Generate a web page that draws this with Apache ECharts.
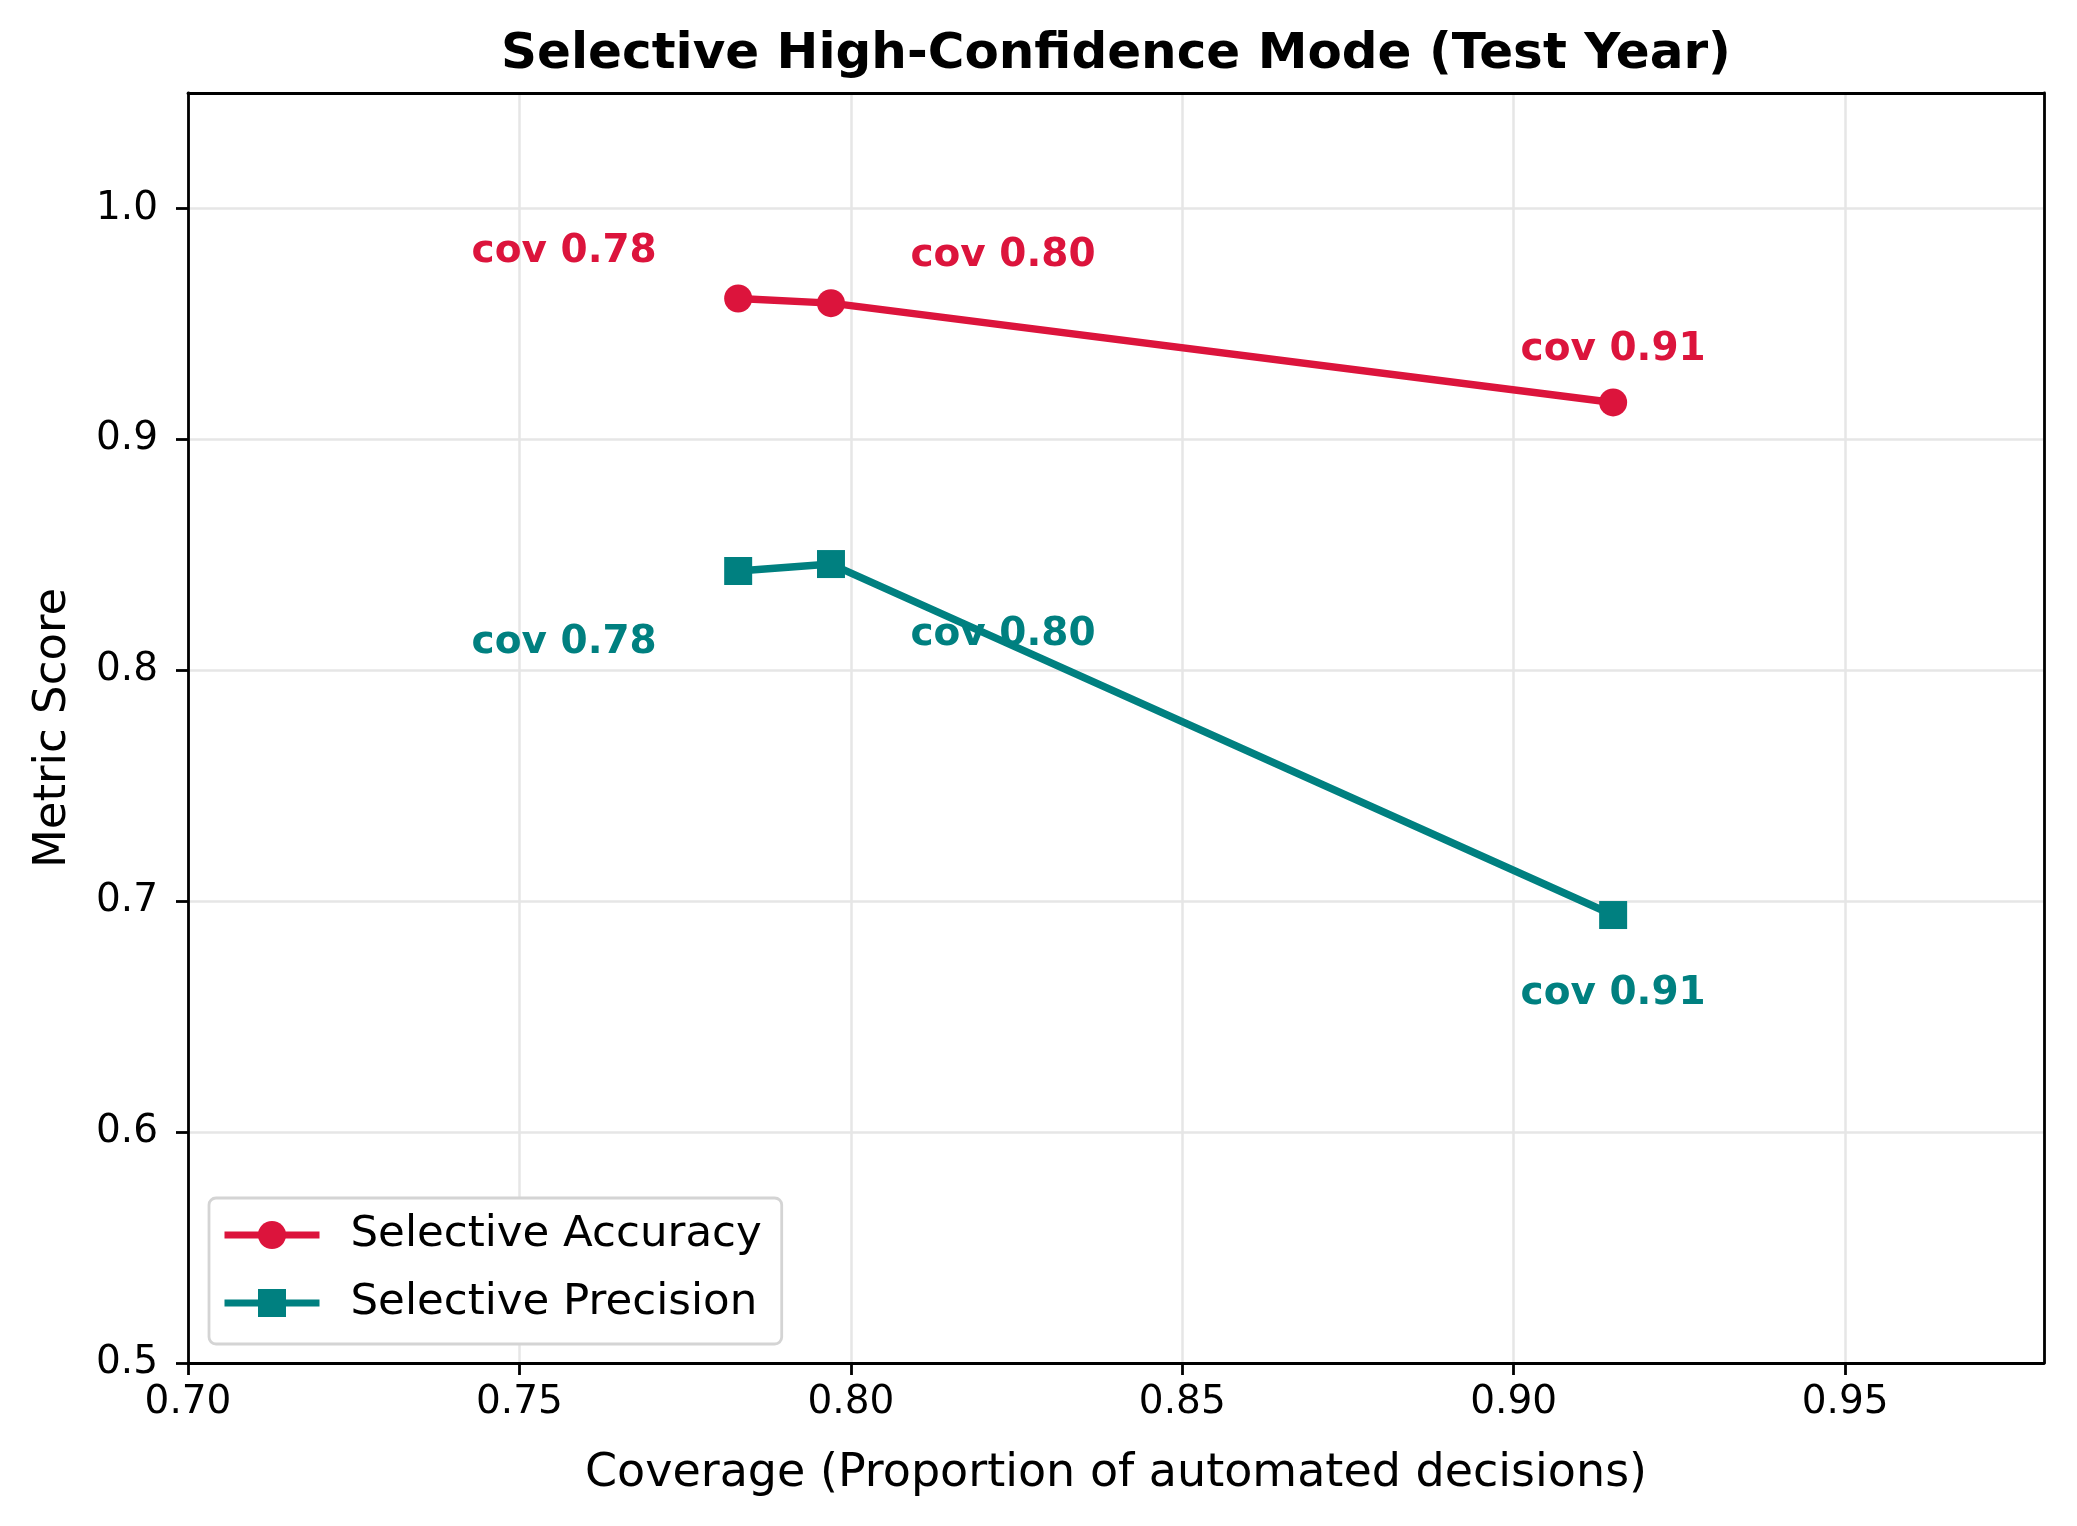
<!DOCTYPE html>
<html>
<head>
<meta charset="utf-8">
<script src="https://cdn.jsdelivr.net/npm/echarts@6/dist/echarts.min.js"></script>
<style>
  html, body { margin: 0; padding: 0; background: #fff; }
  #main { width: 2077px; height: 1526px; }
</style>
</head>
<body>
<div id="main"></div>
<script>
// data
var coverage = [0.783, 0.797, 0.915];
var selAccuracy = [0.961, 0.959, 0.916];
var selPrecision = [0.843, 0.846, 0.694];
var covLabels = ['cov 0.78', 'cov 0.80', 'cov 0.91'];
var seriesNames = ['Selective Accuracy', 'Selective Precision'];

// label placement (pixels from the marker), style only
var accOffsets = [[-174, -47], [172, -47], [0, -53]];
var precOffsets = [[-174, 72], [172, 71], [0, 79]];

var RED = '#dc143c';
var TEAL = '#008080';
var FONT = 'DejaVu Sans';

function buildData(ys, offsets, color) {
    return coverage.map(function (x, i) {
        return {
            value: [x, ys[i]],
            label: {
                show: true,
                position: 'inside',
                offset: offsets[i],
                formatter: covLabels[i],
                color: color,
                fontFamily: FONT,
                fontWeight: 'bold',
                fontSize: 39
            }
        };
    });
}

// frame-only axis (top / right spines)
function spine(pos, isX) {
    var a = {
        type: 'value',
        position: pos,
        axisLine: { show: true, onZero: false, lineStyle: { color: '#000', width: 2.8 } },
        axisTick: { show: false },
        axisLabel: { show: false },
        splitLine: { show: false }
    };
    if (isX) { a.min = 0.7; a.max = 0.98; } else { a.min = 0.5; a.max = 1.05; }
    return a;
}

var myChart = echarts.init(document.getElementById('main'), null, { renderer: 'canvas' });

myChart.setOption({
    backgroundColor: '#fff',
    animation: false,
    textStyle: { fontFamily: FONT },
    grid: {
        left: 188, right: 33, top: 93, bottom: 163,
        containLabel: false
    },
    graphic: [{
        type: 'text',
        x: 1116, y: 55,
        style: {
            text: 'Selective High-Confidence Mode (Test Year)',
            fontFamily: FONT, fontWeight: 'bold', fontSize: 50,
            fill: '#000', textAlign: 'center', textVerticalAlign: 'middle'
        }
    }],
    legend: {
        orient: 'vertical',
        left: 209, top: 1198,
        padding: [15, 20, 19, 12],
        itemWidth: 95, itemHeight: 35, itemGap: 24,
        backgroundColor: '#fff',
        borderColor: '#d4d4d4', borderWidth: 2.8, borderRadius: 7,
        lineStyle: { width: 7 },
        textStyle: { fontFamily: FONT, fontSize: 43.5, color: '#000', padding: [0, 0, 0, 26] },
        data: seriesNames
    },
    xAxis: [{
        type: 'value',
        min: 0.7, max: 0.98, interval: 0.05,
        name: 'Coverage (Proportion of automated decisions)',
        nameLocation: 'middle', nameGap: 88,
        nameTextStyle: { fontFamily: FONT, fontSize: 46, color: '#000' },
        axisLine: { show: true, lineStyle: { color: '#000', width: 2.8 } },
        axisTick: { show: true, length: 12, lineStyle: { color: '#000', width: 2.8 } },
        axisLabel: {
            fontFamily: FONT, fontSize: 39, color: '#000', margin: 20,
            showMaxLabel: false,
            formatter: function (v) { return v.toFixed(2); }
        },
        splitLine: { show: true, lineStyle: { color: '#e6e6e6', width: 2.5 } }
    }, spine('top', true)],
    yAxis: [{
        type: 'value',
        min: 0.5, max: 1.05, interval: 0.1,
        name: 'Metric Score',
        nameLocation: 'middle', nameGap: 112,
        nameTextStyle: { fontFamily: FONT, fontSize: 45, color: '#000' },
        axisLine: { show: true, lineStyle: { color: '#000', width: 2.8 } },
        axisTick: { show: true, length: 12, lineStyle: { color: '#000', width: 2.8 } },
        axisLabel: {
            fontFamily: FONT, fontSize: 39, color: '#000', margin: 30,
            showMaxLabel: false,
            formatter: function (v) { return v.toFixed(1); }
        },
        splitLine: { show: true, lineStyle: { color: '#e6e6e6', width: 2.5 } }
    }, spine('right', false)],
    series: [{
        name: seriesNames[0],
        type: 'line',
        symbol: 'circle',
        symbolSize: 28,
        color: RED,
        lineStyle: { color: RED, width: 7.5 },
        itemStyle: { color: RED },
        data: buildData(selAccuracy, accOffsets, RED)
    }, {
        name: seriesNames[1],
        type: 'line',
        symbol: 'rect',
        symbolSize: 28,
        color: TEAL,
        lineStyle: { color: TEAL, width: 7.5 },
        itemStyle: { color: TEAL },
        data: buildData(selPrecision, precOffsets, TEAL)
    }]
});
</script>
</body>
</html>
